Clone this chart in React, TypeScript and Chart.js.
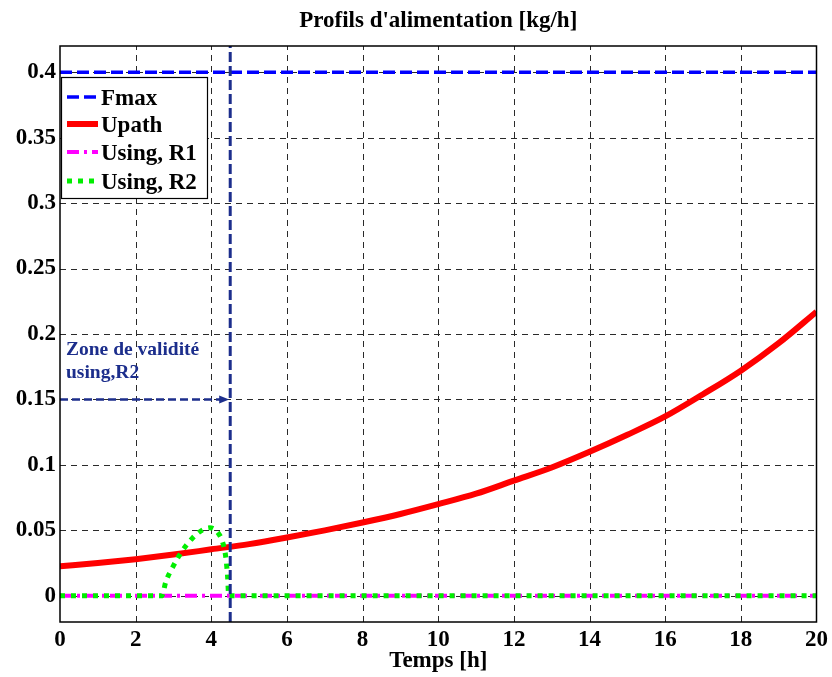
import React, { useEffect, useRef } from "react";
import { Chart, registerables } from "chart.js";

Chart.register(...registerables);

const titleText = "Profils d'alimentation [kg/h]";
const xLabelText = "Temps [h]";
const xTicks = [0, 2, 4, 6, 8, 10, 12, 14, 16, 18, 20];
const yTicks = [0, 0.05, 0.1, 0.15, 0.2, 0.25, 0.3, 0.35, 0.4];
const xMin = 0;
const xMax = 20;
const yMin = -0.02;
const yMax = 0.42;

const fmaxX = [0, 20];
const fmaxY = [0.4, 0.4];

const upathX = [0, 1, 2, 3, 4, 5, 6, 7, 8, 9, 10, 11, 12, 13, 14, 15, 16, 17, 18, 19, 20];
const upathY = [0.0225, 0.025, 0.028, 0.0315, 0.0355, 0.0395, 0.0445, 0.05, 0.056, 0.0625, 0.07, 0.078, 0.088, 0.098, 0.11, 0.123, 0.137, 0.154, 0.172, 0.193, 0.217];

const r1X = [0, 20];
const r1Y = [0, 0];

const r2X = [0, 2.69, 2.8, 3.0, 3.2, 3.5, 3.75, 3.96, 4.15, 4.3, 4.38, 4.43, 4.46, 20];
const r2Y = [0, 0, 0.011, 0.023, 0.033, 0.044, 0.05, 0.052, 0.049, 0.041, 0.03, 0.015, 0, 0];

const validityX = 4.5;
const arrowY = 0.15;
const zoneLines = ["Zone de validité", "using,R2"];

const legendLabels = ["Fmax", "Upath", "Using, R1", "Using, R2"];

const FONT = "'Liberation Serif', 'Times New Roman', serif";
const ZONE_COLOR = "#1c2e8c";

const styles = [
  { color: "#0000ff", width: 3.5, dash: [12, 5] },
  { color: "#ff0000", width: 6, dash: [] as number[] },
  { color: "#ff00ff", width: 4, dash: [12, 5, 3, 5] },
  { color: "#00ee00", width: 5, dash: [5, 6] },
];

const toPts = (xs: number[], ys: number[]) => xs.map((x, i) => ({ x, y: ys[i] }));

const decorPlugin = {
  id: "decor",
  beforeDatasetsDraw(chart: any) {
    const { ctx, chartArea: a, scales } = chart;
    const xs = scales.x;
    const ys = scales.y;
    ctx.save();
    ctx.strokeStyle = "#2a2a2a";
    ctx.lineWidth = 1;
    ctx.setLineDash([6, 5]);
    xTicks.forEach((v) => {
      if (v === xMin || v === xMax) return;
      const p = Math.round(xs.getPixelForValue(v)) + 0.5;
      ctx.beginPath();
      ctx.moveTo(p, a.bottom);
      ctx.lineTo(p, a.top);
      ctx.stroke();
    });
    yTicks.forEach((v) => {
      const p = Math.round(ys.getPixelForValue(v)) + 0.5;
      ctx.beginPath();
      ctx.moveTo(a.left, p);
      ctx.lineTo(a.right, p);
      ctx.stroke();
    });
    ctx.restore();
  },
  afterDatasetsDraw(chart: any) {
    const { ctx, chartArea: a, scales } = chart;
    const xs = scales.x;
    const ys = scales.y;
    ctx.save();
    const vx = xs.getPixelForValue(validityX);
    ctx.strokeStyle = ZONE_COLOR;
    ctx.lineWidth = 3;
    ctx.setLineDash([10, 4]);
    ctx.beginPath();
    ctx.moveTo(vx, a.bottom);
    ctx.lineTo(vx, a.top);
    ctx.stroke();
    const ay = ys.getPixelForValue(arrowY);
    const ax0 = xs.getPixelForValue(0);
    ctx.lineWidth = 2.5;
    ctx.setLineDash([8, 4]);
    ctx.beginPath();
    ctx.moveTo(ax0, ay);
    ctx.lineTo(vx - 6, ay);
    ctx.stroke();
    ctx.setLineDash([]);
    ctx.fillStyle = ZONE_COLOR;
    ctx.beginPath();
    ctx.moveTo(vx - 1, ay);
    ctx.lineTo(vx - 11, ay - 4);
    ctx.lineTo(vx - 11, ay + 4);
    ctx.closePath();
    ctx.fill();
    ctx.font = `bold 19.5px ${FONT}`;
    ctx.textAlign = "left";
    ctx.textBaseline = "alphabetic";
    ctx.fillText(zoneLines[0], a.left + 6, 355);
    ctx.fillText(zoneLines[1], a.left + 6, 378);
    ctx.restore();
  },
  afterDraw(chart: any) {
    const { ctx, chartArea: a } = chart;
    ctx.save();
    ctx.strokeStyle = "#000";
    ctx.lineWidth = 1.5;
    ctx.setLineDash([]);
    ctx.strokeRect(a.left, a.top, a.right - a.left, a.bottom - a.top);
    ctx.fillStyle = "#000";
    ctx.font = `bold 23px ${FONT}`;
    ctx.textAlign = "center";
    ctx.textBaseline = "alphabetic";
    ctx.fillText(titleText, (a.left + a.right) / 2, 27);
    ctx.fillText(xLabelText, (a.left + a.right) / 2, 667);
    const lx = a.left + 1;
    const ly = 77;
    const lw = 146;
    const lh = 121;
    ctx.fillStyle = "#fff";
    ctx.fillRect(lx, ly, lw, lh);
    ctx.strokeStyle = "#000";
    ctx.lineWidth = 1.2;
    ctx.strokeRect(lx + 0.5, ly + 0.5, lw, lh);
    const rowY = [97, 124, 152, 181];
    legendLabels.forEach((lab, i) => {
      const s = styles[i];
      ctx.strokeStyle = s.color;
      ctx.lineWidth = s.width;
      ctx.setLineDash(s.dash);
      ctx.beginPath();
      ctx.moveTo(lx + 6, rowY[i]);
      ctx.lineTo(lx + 37, rowY[i]);
      ctx.stroke();
      ctx.setLineDash([]);
      ctx.fillStyle = "#000";
      ctx.font = `bold 23px ${FONT}`;
      ctx.textAlign = "left";
      ctx.textBaseline = "alphabetic";
      ctx.fillText(lab, lx + 40, rowY[i] + 8);
    });
    ctx.restore();
  },
};

export default function App() {
  const ref = useRef<HTMLCanvasElement | null>(null);
  useEffect(() => {
    document.body.style.margin = "0";
    if (!ref.current) return;
    const mk = (i: number, label: string, data: any[], order: number, tension = 0) => ({
      label,
      data,
      borderColor: styles[i].color,
      backgroundColor: styles[i].color,
      borderWidth: styles[i].width,
      borderDash: styles[i].dash,
      pointRadius: 0,
      fill: false,
      tension,
      order,
      borderCapStyle: "butt",
    });
    const chart = new Chart(ref.current, {
      type: "line",
      data: {
        datasets: [
          mk(0, legendLabels[0], toPts(fmaxX, fmaxY), 4),
          { ...mk(1, legendLabels[1], toPts(upathX, upathY), 3), cubicInterpolationMode: "monotone" },
          mk(2, legendLabels[2], toPts(r1X, r1Y), 2),
          { ...mk(3, legendLabels[3], toPts(r2X, r2Y), 1), cubicInterpolationMode: "monotone" },
        ] as any,
      },
      options: {
        animation: false,
        responsive: false,
        layout: { padding: { left: 0, top: 46, right: 15, bottom: 0 } },
        plugins: { legend: { display: false }, tooltip: { enabled: false }, title: { display: false } },
        scales: {
          x: {
            type: "linear",
            min: xMin,
            max: xMax,
            afterBuildTicks: (s: any) => {
              s.ticks = xTicks.map((v) => ({ value: v }));
            },
            afterFit: (s: any) => {
              s.height = 55;
            },
            grid: { display: false, drawTicks: false },
            border: { display: false },
            ticks: {
              padding: 4,
              color: "#000",
              font: { family: FONT, size: 23, weight: "bold" },
              maxRotation: 0,
              autoSkip: false,
              callback: (v: any) => String(v),
            },
          },
          y: {
            type: "linear",
            min: yMin,
            max: yMax,
            afterBuildTicks: (s: any) => {
              s.ticks = yTicks.map((v) => ({ value: v }));
            },
            afterFit: (s: any) => {
              s.width = 60;
            },
            grid: { display: false, drawTicks: false },
            border: { display: false },
            ticks: {
              padding: 4,
              color: "#000",
              font: { family: FONT, size: 23, weight: "bold" },
              autoSkip: false,
              callback: (v: any) => String(Number(Number(v).toFixed(2))),
            },
          },
        },
      } as any,
      plugins: [decorPlugin],
    });
    return () => chart.destroy();
  }, []);
  return (
    <div style={{ width: 832, height: 677, background: "#fff" }}>
      <canvas ref={ref} width={832} height={677} />
    </div>
  );
}
